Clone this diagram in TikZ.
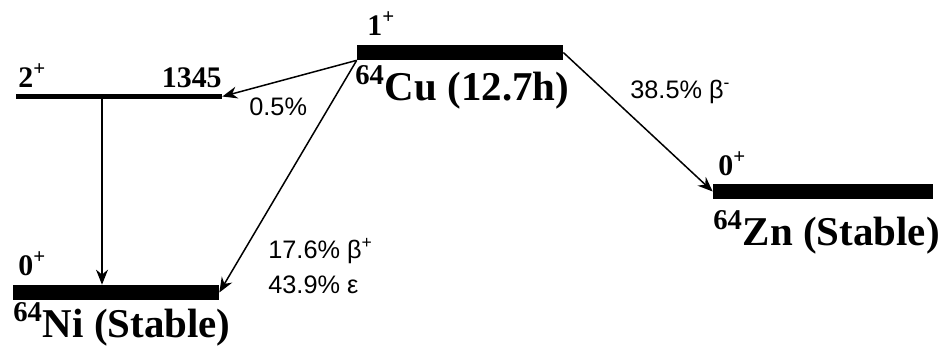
\documentclass[tikz,border=0pt]{standalone}
\usepackage{fontspec}
\setmainfont{Liberation Serif}
\newfontfamily\ratiofont{Liberation Sans}
\usetikzlibrary{arrows.meta, positioning}

\begin{document}
\begin{tikzpicture}[
    x=0.02cm, y=-0.02cm,
    level/.style={rectangle, fill=black, inner sep=0pt},
    spin/.style={font=\fontsize{17}{20}\selectfont\bfseries, inner sep=0pt, anchor=base west},
    nuclide/.style={font=\fontsize{23.3}{28}\selectfont\bfseries, inner sep=0pt, anchor=base west},
    ratio/.style={font=\ratiofont\fontsize{14.4}{17}\selectfont, inner sep=0pt, anchor=base west},
    decay/.style={-{Stealth[length=0.3cm, width=0.24cm]}, line width=0.03cm}
]
    \useasboundingbox (0,0) rectangle (945,352);

    % levels
    \node[level, minimum width=4.12cm, minimum height=0.3cm] (cu) at (460,52.5) {};
    \node[level, minimum width=4.12cm, minimum height=0.1cm] (ni2) at (119,96.5) {};
    \node[level, minimum width=4.12cm, minimum height=0.3cm] (ni0) at (116,292.5) {};
    \node[level, minimum width=4.4cm, minimum height=0.3cm] (zn) at (823,191.5) {};

    % spins and energies
    \node[spin] (cuspin) at (367,35) {1\textsuperscript{+}};
    \node[spin] (ni2spin) at (18,87) {2\textsuperscript{+}};
    \node[spin, anchor=base east] (ni2energy) at (222,87) {1345};
    \node[spin] (ni0spin) at (18,275) {0\textsuperscript{+}};
    \node[spin] (znspin) at (718,175) {0\textsuperscript{+}};

    % nuclides
    \node[nuclide] (cuname) at (355,100) {\textsuperscript{64}Cu (12.7h)};
    \node[nuclide] (niname) at (13,337) {\textsuperscript{64}Ni (Stable)};
    \node[nuclide] (znname) at (713,245) {\textsuperscript{64}Zn (Stable)};

    % branching ratios
    \node[ratio] (r2) at (249,115) {0.5\%};
    \node[ratio] (rminus) at (630,98) {38.5\% β\textsuperscript{-}};
    \node[ratio] (rplus) at (268,258) {17.6\% β\textsuperscript{+}};
    \node[ratio] (rec) at (268,293) {43.9\% ε};

    \draw[decay] (cu.south west) -- (ni2.east);
    \draw[decay] (cu.south west) -- (ni0.east);
    \draw[decay] (cu.east) -- (zn.west);
    \draw[decay] ([xshift=-0.34cm]ni2.south) coordinate (g) -- (g |- ni0.north);
\end{tikzpicture}
\end{document}
